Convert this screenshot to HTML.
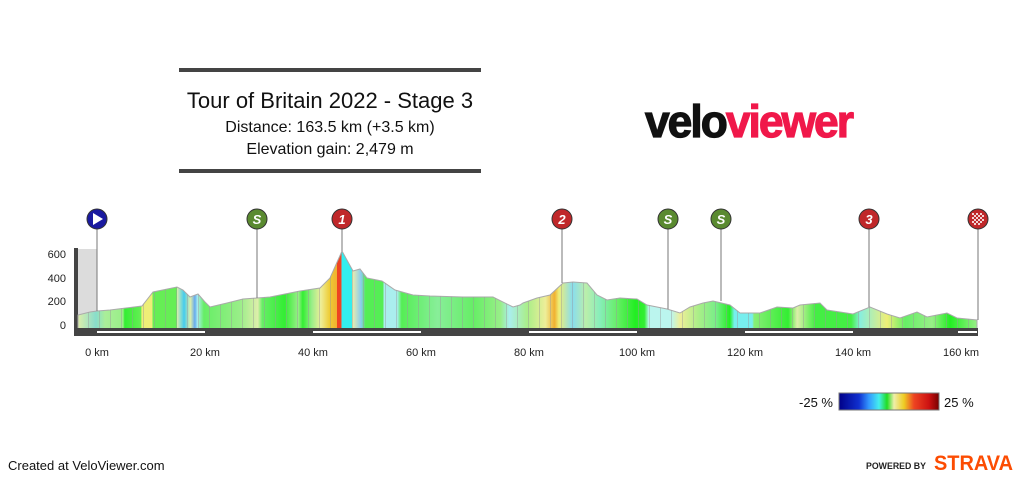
<!DOCTYPE html>
<html><head><meta charset="utf-8"><style>
body{margin:0;background:#fff;width:1023px;height:477px;overflow:hidden;font-family:"Liberation Sans",Arial,sans-serif}
</style></head><body>
<svg width="1023" height="477" viewBox="0 0 1023 477" xmlns="http://www.w3.org/2000/svg" font-family="Liberation Sans, Arial, sans-serif">
<defs>
<linearGradient id="g" x1="78" x2="977" y1="0" y2="0" gradientUnits="userSpaceOnUse">
<stop offset="0" stop-color="#ddeeaa"/><stop offset=".02" stop-color="#88ddcc"/><stop offset=".03" stop-color="#aaee99"/>
<stop offset=".05" stop-color="#99ee88"/><stop offset=".052" stop-color="#33ee33"/><stop offset=".07" stop-color="#66ee55"/>
<stop offset=".071" stop-color="#eeee77"/><stop offset=".083" stop-color="#eeee77"/>
<stop offset=".083" stop-color="#66ee55"/><stop offset=".11" stop-color="#66ee55"/>
<stop offset=".11" stop-color="#ddeeaa"/><stop offset=".118" stop-color="#44ccee"/><stop offset=".125" stop-color="#ddeeaa"/><stop offset=".13" stop-color="#66aaee"/>
<stop offset=".133" stop-color="#aaeeee"/><stop offset=".14" stop-color="#66ee66"/>
<stop offset=".18" stop-color="#99ee88"/><stop offset=".2" stop-color="#ddeeaa"/><stop offset=".205" stop-color="#66ee66"/>
<stop offset=".23" stop-color="#33ee33"/><stop offset=".245" stop-color="#99ee88"/><stop offset=".25" stop-color="#33ee33"/><stop offset=".26" stop-color="#99ee88"/>
<stop offset=".27" stop-color="#eeee99"/><stop offset=".28" stop-color="#eecc33"/><stop offset=".288" stop-color="#f0b030"/>
<stop offset=".288" stop-color="#ee4422"/><stop offset=".293" stop-color="#ee4422"/>
<stop offset=".293" stop-color="#33eeee"/><stop offset=".305" stop-color="#33eeee"/>
<stop offset=".305" stop-color="#eeeeaa"/><stop offset=".315" stop-color="#88ccee"/>
<stop offset=".32" stop-color="#55ee55"/><stop offset=".34" stop-color="#55ee55"/>
<stop offset=".34" stop-color="#aaeeee"/><stop offset=".355" stop-color="#aaeeee"/>
<stop offset=".36" stop-color="#55ee55"/><stop offset=".4" stop-color="#88ee99"/><stop offset=".44" stop-color="#66ee66"/>
<stop offset=".47" stop-color="#99ee88"/><stop offset=".48" stop-color="#aaeeee"/><stop offset=".5" stop-color="#aaee88"/>
<stop offset=".52" stop-color="#eeee99"/><stop offset=".53" stop-color="#f0b030"/><stop offset=".535" stop-color="#eeee77"/>
<stop offset=".55" stop-color="#88ddee"/><stop offset=".565" stop-color="#bbeeaa"/><stop offset=".58" stop-color="#88eebb"/>
<stop offset=".6" stop-color="#66ee66"/><stop offset=".62" stop-color="#22ee22"/><stop offset=".63" stop-color="#33ee33"/>
<stop offset=".635" stop-color="#bbf5ee"/><stop offset=".66" stop-color="#bbf5ee"/>
<stop offset=".67" stop-color="#eeee99"/><stop offset=".69" stop-color="#aaee88"/><stop offset=".71" stop-color="#77ee88"/>
<stop offset=".725" stop-color="#22ee22"/><stop offset=".73" stop-color="#77eeee"/><stop offset=".75" stop-color="#77eeee"/>
<stop offset=".752" stop-color="#88ee77"/><stop offset=".79" stop-color="#33ee33"/><stop offset=".8" stop-color="#ddeeaa"/>
<stop offset=".82" stop-color="#44ee44"/><stop offset=".86" stop-color="#44ee44"/><stop offset=".87" stop-color="#88eedd"/>
<stop offset=".9" stop-color="#eeee77"/><stop offset=".92" stop-color="#66ee66"/><stop offset=".95" stop-color="#99ee88"/>
<stop offset=".97" stop-color="#22ee22"/><stop offset="1" stop-color="#99ee88"/>
</linearGradient>
<linearGradient id="leg" x1="0" x2="1" y1="0" y2="0">
<stop offset="0" stop-color="#000088"/><stop offset=".2" stop-color="#1030d0"/><stop offset=".3" stop-color="#3399ff"/>
<stop offset=".4" stop-color="#44eeee"/><stop offset=".48" stop-color="#22dd22"/><stop offset=".55" stop-color="#eeeeaa"/>
<stop offset=".65" stop-color="#eecc22"/><stop offset=".75" stop-color="#ee4422"/><stop offset=".9" stop-color="#cc1111"/><stop offset="1" stop-color="#770000"/>
</linearGradient>
<pattern id="st" x="0" y="0" width="11" height="10" patternUnits="userSpaceOnUse">
<rect x="0" y="0" width="1" height="10" fill="#999" opacity="0.45"/>
</pattern>
<clipPath id="cp"><polygon id="pp" points="78,329 78,315 90,312 97,311 110,310 142,306 153,292 177,287 183,290 190,297 198,294 205,302 210,307 227,303 243,299 257,298 270,297 300,291 320,288 330,278 342,251 353,271 360,269 367,278 382,281 395,290 413,295 430,296 463,297 493,297 513,307 520,305 523,303 537,298 550,295 563,283 573,282 587,283 597,295 607,300 620,298 637,299 647,305 667,309 680,313 690,307 703,303 713,301 730,305 740,313 760,313 777,307 793,308 800,305 820,303 827,310 853,314 870,307 887,314 900,318 917,312 927,317 947,313 957,318 977,320 977,329"/></clipPath>
</defs>

<!-- title -->
<rect x="179" y="68" width="302" height="4" fill="#444"/>
<rect x="179" y="169" width="302" height="4" fill="#444"/>
<text x="330" y="108" font-size="22" text-anchor="middle" fill="#111">Tour of Britain 2022 - Stage 3</text>
<text x="330" y="132" font-size="16" text-anchor="middle" fill="#111">Distance: 163.5 km (+3.5 km)</text>
<text x="330" y="154" font-size="16" text-anchor="middle" fill="#111">Elevation gain: 2,479 m</text>

<!-- logo -->
<text x="645" y="137" font-size="45" font-weight="bold" letter-spacing="-2" textLength="207" lengthAdjust="spacingAndGlyphs" fill="#111" stroke="#111" stroke-width="1.2">velo<tspan fill="#f0184a" stroke="#f0184a">viewer</tspan></text>

<!-- axis -->
<rect x="78" y="249" width="19" height="80" fill="#dcdcdc"/>
<rect x="74" y="248" width="4" height="88" fill="#444"/>
<g font-size="11" fill="#222" text-anchor="end">
<text x="66" y="258">600</text><text x="66" y="282">400</text><text x="66" y="305">200</text><text x="66" y="329">0</text>
</g>

<!-- profile -->
<use href="#pp" fill="url(#g)" stroke="#aaa" stroke-width="1"/>
<rect x="78" y="240" width="900" height="90" fill="url(#st)" clip-path="url(#cp)"/>
<rect x="74" y="328" width="904" height="8" fill="#444"/>
<g fill="#fff">
<rect x="97" y="331" width="108" height="2"/><rect x="313" y="331" width="108" height="2"/><rect x="529" y="331" width="108" height="2"/><rect x="745" y="331" width="108" height="2"/><rect x="958" y="331" width="19" height="2"/>
</g>
<g font-size="11" fill="#222" text-anchor="middle">
<text x="97" y="356">0 km</text><text x="205" y="356">20 km</text><text x="313" y="356">40 km</text><text x="421" y="356">60 km</text><text x="529" y="356">80 km</text><text x="637" y="356">100 km</text><text x="745" y="356">120 km</text><text x="853" y="356">140 km</text><text x="961" y="356">160 km</text>
</g>

<!-- markers -->
<g stroke="#777" stroke-width="1">
<line x1="97" y1="229" x2="97" y2="311"/><line x1="257" y1="229" x2="257" y2="298"/><line x1="342" y1="229" x2="342" y2="251"/>
<line x1="562" y1="229" x2="562" y2="283"/><line x1="668" y1="229" x2="668" y2="309"/><line x1="721" y1="229" x2="721" y2="301"/>
<line x1="869" y1="229" x2="869" y2="307"/><line x1="978" y1="229" x2="978" y2="320"/>
</g>
<g stroke="#333" stroke-width="1">
<circle cx="97" cy="219" r="10" fill="#1a1aa0"/>
<circle cx="257" cy="219" r="10" fill="#5a8a30"/>
<circle cx="342" cy="219" r="10" fill="#c0282a"/>
<circle cx="562" cy="219" r="10" fill="#c0282a"/>
<circle cx="668" cy="219" r="10" fill="#5a8a30"/>
<circle cx="721" cy="219" r="10" fill="#5a8a30"/>
<circle cx="869" cy="219" r="10" fill="#c0282a"/>
<circle cx="978" cy="219" r="10" fill="#c0282a"/>
</g>
<polygon points="93,213 93,225 103,219" fill="#fff"/>
<g fill="#fff" font-size="13" font-weight="bold" font-style="italic" text-anchor="middle">
<text x="257" y="224">S</text><text x="342" y="224">1</text><text x="562" y="224">2</text><text x="668" y="224">S</text><text x="721" y="224">S</text><text x="869" y="224">3</text>
</g>
<g fill="#fff" opacity="0.8">
<rect x="972" y="213" width="2" height="2"/><rect x="976" y="213" width="2" height="2"/><rect x="980" y="213" width="2" height="2"/>
<rect x="974" y="215" width="2" height="2"/><rect x="978" y="215" width="2" height="2"/><rect x="982" y="215" width="2" height="2"/>
<rect x="972" y="217" width="2" height="2"/><rect x="976" y="217" width="2" height="2"/><rect x="980" y="217" width="2" height="2"/>
<rect x="974" y="219" width="2" height="2"/><rect x="978" y="219" width="2" height="2"/><rect x="982" y="219" width="2" height="2"/>
<rect x="972" y="221" width="2" height="2"/><rect x="976" y="221" width="2" height="2"/><rect x="980" y="221" width="2" height="2"/>
<rect x="974" y="223" width="2" height="2"/><rect x="978" y="223" width="2" height="2"/>
</g>

<!-- legend -->
<rect x="839" y="393" width="100" height="17" fill="url(#leg)" stroke="#777" stroke-width="1"/>
<text x="833" y="407" font-size="13" text-anchor="end" fill="#111">-25 %</text>
<text x="944" y="407" font-size="13" fill="#111">25 %</text>

<!-- footer -->
<text x="8" y="470" font-size="13" fill="#111">Created at VeloViewer.com</text>
<text x="866" y="469" font-size="9" font-weight="bold" textLength="60" lengthAdjust="spacingAndGlyphs" fill="#222">POWERED BY</text>
<text x="934" y="470" font-size="21" font-weight="bold" textLength="79" lengthAdjust="spacingAndGlyphs" fill="#fc4c02">STRAVA</text>
</svg>
</body></html>
